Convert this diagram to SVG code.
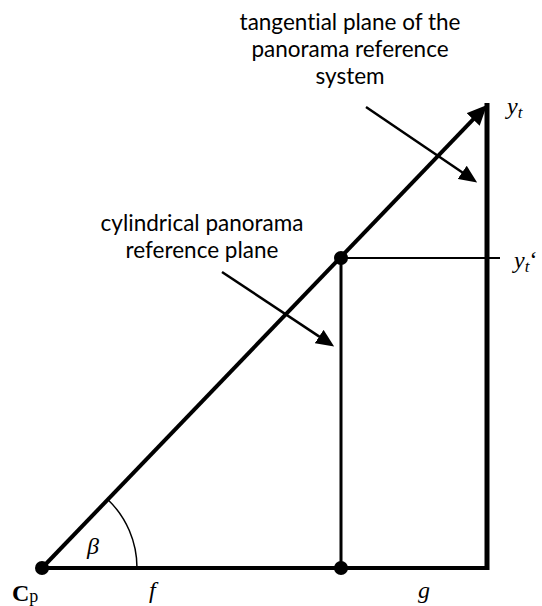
<svg xmlns="http://www.w3.org/2000/svg" width="542" height="606" viewBox="0 0 542 606">
<style>
.lbl{font-family:Lato,"Liberation Sans",Arial,sans-serif;font-size:22.5px;fill:#000;text-anchor:middle;font-variant-ligatures:none}
.math{font-family:"Liberation Serif","Times New Roman",serif;font-size:24px;font-style:italic;fill:#000}
.ln{stroke:#000;fill:none;stroke-linecap:butt}
</style>
<defs>
<marker id="bigHead" markerUnits="userSpaceOnUse" markerWidth="22" markerHeight="18" viewBox="0 0 22 18" refX="9" refY="9" orient="auto">
<path d="M0,0 L20,9 L0,18 z" fill="#000"/>
</marker>
<marker id="callHead" markerUnits="userSpaceOnUse" markerWidth="20" markerHeight="16" viewBox="0 0 20 16" refX="7" refY="8" orient="auto">
<path d="M0,0 L18,8 L0,16 z" fill="#000"/>
</marker>
</defs>
<rect width="542" height="606" fill="#fff"/>
<g id="connectors">
<line class="ln" x1="42" y1="568" x2="489" y2="568" stroke-width="4"/>
<line class="ln" x1="487" y1="103" x2="487" y2="570" stroke-width="5"/>
<line class="ln" x1="341" y1="258" x2="341" y2="568" stroke-width="3"/>
<line class="ln" x1="341" y1="258" x2="500" y2="258" stroke-width="2"/>
<line class="ln" x1="42" y1="568" x2="479.4" y2="112.9" stroke-width="4" marker-end="url(#bigHead)"/>
<path class="ln" d="M137,568 A95,95 0 0 0 107.5,499.2" stroke-width="1.5"/>
<line class="ln" x1="366" y1="107" x2="468" y2="176.3" stroke-width="2.5" marker-end="url(#callHead)"/>
<line class="ln" x1="222" y1="272" x2="325" y2="340.4" stroke-width="2.5" marker-end="url(#callHead)"/>
</g>
<g id="node-cp"><circle cx="42" cy="568" r="7" fill="#000"/></g>
<g id="node-mid"><circle cx="341" cy="258" r="7" fill="#000"/></g>
<g id="node-bottom"><circle cx="341" cy="568" r="7" fill="#000"/></g>
<g id="label-tangential">
<text class="lbl" x="350" y="30">tangential plane of the</text>
<text class="lbl" x="350" y="57">panorama reference</text>
<text class="lbl" x="350" y="84">system</text>
</g>
<g id="label-cylindrical">
<text class="lbl" x="202" y="231">cylindrical panorama</text>
<text class="lbl" x="202" y="258">reference plane</text>
</g>
<g id="math-labels">
<text class="math" x="507" y="114">y<tspan font-size="17" dy="4">t</tspan></text>
<text class="math" x="514" y="268">y<tspan font-size="17" dy="4">t</tspan><tspan font-style="normal" dy="-4">‘</tspan></text>
<text class="math" x="87" y="554" font-size="26">β</text>
<text class="math" x="149" y="598">f</text>
<text class="math" x="418" y="598">g</text>
<text x="12" y="601" style="font-family:'Liberation Serif','Times New Roman',serif;font-size:24px;font-weight:bold">C<tspan font-weight="normal" font-size="18" dy="1">p</tspan></text>
</g>
</svg>
